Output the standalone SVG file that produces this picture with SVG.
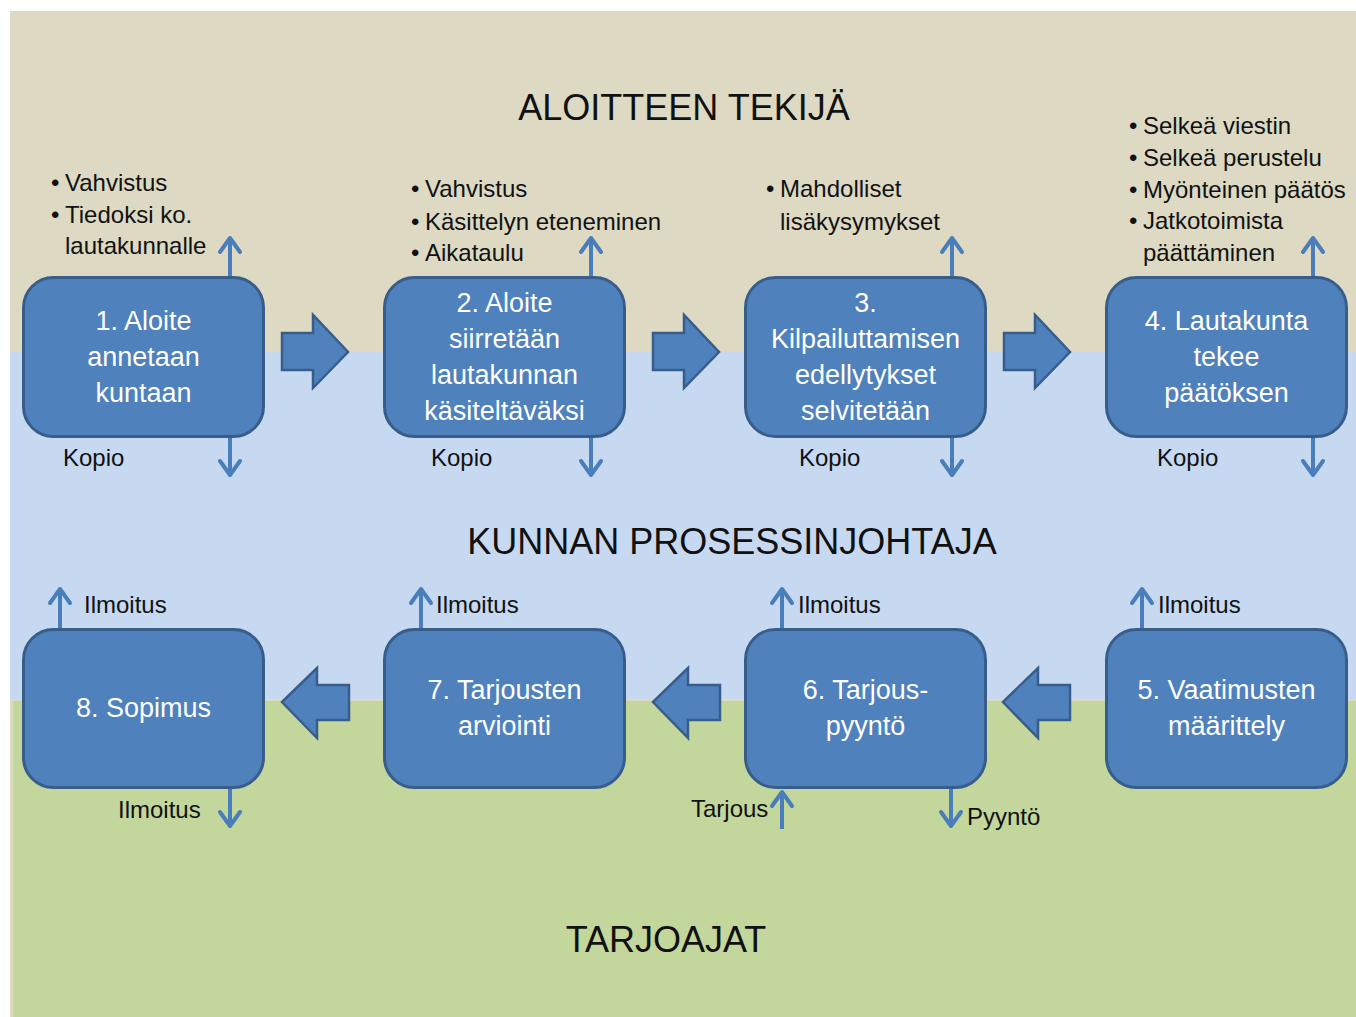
<svg xmlns="http://www.w3.org/2000/svg" width="1356" height="1017" viewBox="0 0 1356 1017">
<style>
.node{fill:#4f81bd;stroke:#385d8a;stroke-width:3}
.nt{font-family:"Liberation Sans",Arial,sans-serif;font-size:27px;fill:#ffffff;text-anchor:middle}
.hd{font-family:"Liberation Sans",Arial,sans-serif;font-size:36px;fill:#111111;text-anchor:middle}
.lb{font-family:"Liberation Sans",Arial,sans-serif;font-size:24px;fill:#111111}
.blk{fill:#4f81bd;stroke:#385d8a;stroke-width:2.5;stroke-linejoin:miter}
.thin{stroke:#4a7ebb;stroke-width:4;fill:none;marker-end:url(#ah)}
</style>
<defs>
<marker id="ah" viewBox="-20 -14 24 28" markerWidth="24" markerHeight="28" refX="0" refY="0" orient="auto" markerUnits="userSpaceOnUse">
<path d="M-14,-10 L0,0 L-14,10" fill="none" stroke="#4a7ebb" stroke-width="4" stroke-linecap="round" stroke-linejoin="round"/>
</marker>
</defs>
<g id="background">
<rect x="10" y="11" width="1346" height="1006" fill="#ddd9c3"/>
<rect x="10" y="351" width="1346" height="348" fill="#c6d9f1"/>
<rect x="13" y="701" width="1343" height="316" fill="#c3d69b"/>
</g>
<g id="lanes">
<text class="hd" x="684" y="120">ALOITTEEN TEKIJÄ</text>
<text class="hd" x="732" y="554">KUNNAN PROSESSINJOHTAJA</text>
<text class="hd" x="666" y="952">TARJOAJAT</text>
</g>
<g id="connectors">
<path class="blk" d="M282,333 H313 V315 L348,352 L313,388 V370 H282 Z"/>
<path class="blk" d="M653,333 H684 V315 L719,352 L684,388 V370 H653 Z"/>
<path class="blk" d="M1004,333 H1035 V315 L1070,352 L1035,388 V370 H1004 Z"/>
<path class="blk" d="M282,702 L317,668 V685 H349 V720 H317 V738 Z"/>
<path class="blk" d="M653,702 L688,668 V685 H720 V720 H688 V738 Z"/>
<path class="blk" d="M1003,702 L1038,668 V685 H1070 V720 H1038 V738 Z"/>
<line class="thin" x1="230" y1="276" x2="230" y2="238"/>
<line class="thin" x1="591" y1="276" x2="591" y2="238"/>
<line class="thin" x1="952" y1="276" x2="952" y2="238"/>
<line class="thin" x1="1313" y1="276" x2="1313" y2="238"/>
<line class="thin" x1="230" y1="438" x2="230" y2="475"/>
<line class="thin" x1="591" y1="438" x2="591" y2="475"/>
<line class="thin" x1="952" y1="438" x2="952" y2="475"/>
<line class="thin" x1="1313" y1="438" x2="1313" y2="475"/>
<line class="thin" x1="60" y1="628" x2="60" y2="589"/>
<line class="thin" x1="421" y1="628" x2="421" y2="589"/>
<line class="thin" x1="782" y1="628" x2="782" y2="589"/>
<line class="thin" x1="1142" y1="628" x2="1142" y2="589"/>
<line class="thin" x1="230" y1="789" x2="230" y2="826"/>
<line class="thin" x1="951" y1="789" x2="951" y2="826"/>
<line class="thin" x1="782" y1="829" x2="782" y2="792"/>
</g>
<g id="labels">
<text class="lb" x="51" y="191">•</text><text class="lb" x="65" y="191">Vahvistus</text>
<text class="lb" x="51" y="223">•</text><text class="lb" x="65" y="223">Tiedoksi ko.</text>
<text class="lb" x="65" y="254">lautakunnalle</text>
<text class="lb" x="411" y="197">•</text><text class="lb" x="425" y="197">Vahvistus</text>
<text class="lb" x="411" y="230">•</text><text class="lb" x="425" y="230">Käsittelyn eteneminen</text>
<text class="lb" x="411" y="261">•</text><text class="lb" x="425" y="261">Aikataulu</text>
<text class="lb" x="766" y="197">•</text><text class="lb" x="780" y="197">Mahdolliset</text>
<text class="lb" x="780" y="230">lisäkysymykset</text>
<text class="lb" x="1129" y="134">•</text><text class="lb" x="1143" y="134">Selkeä viestin</text>
<text class="lb" x="1129" y="166">•</text><text class="lb" x="1143" y="166">Selkeä perustelu</text>
<text class="lb" x="1129" y="198">•</text><text class="lb" x="1143" y="198">Myönteinen päätös</text>
<text class="lb" x="1129" y="229">•</text><text class="lb" x="1143" y="229">Jatkotoimista</text>
<text class="lb" x="1143" y="261">päättäminen</text>
<text class="lb" x="63" y="466">Kopio</text>
<text class="lb" x="431" y="466">Kopio</text>
<text class="lb" x="799" y="466">Kopio</text>
<text class="lb" x="1157" y="466">Kopio</text>
<text class="lb" x="84" y="613">Ilmoitus</text>
<text class="lb" x="436" y="613">Ilmoitus</text>
<text class="lb" x="798" y="613">Ilmoitus</text>
<text class="lb" x="1158" y="613">Ilmoitus</text>
<text class="lb" x="118" y="818">Ilmoitus</text>
<text class="lb" x="691" y="817">Tarjous</text>
<text class="lb" x="967" y="825">Pyyntö</text>
</g>
<g id="node1">
<rect class="node" x="23.5" y="277.5" width="240" height="159" rx="30"/>
<text class="nt" x="143.5" y="330">1. Aloite</text>
<text class="nt" x="143.5" y="366">annetaan</text>
<text class="nt" x="143.5" y="402">kuntaan</text>
</g>
<g id="node2">
<rect class="node" x="384.5" y="277.5" width="240" height="159" rx="30"/>
<text class="nt" x="504.5" y="312">2. Aloite</text>
<text class="nt" x="504.5" y="348">siirretään</text>
<text class="nt" x="504.5" y="384">lautakunnan</text>
<text class="nt" x="504.5" y="420">käsiteltäväksi</text>
</g>
<g id="node3">
<rect class="node" x="745.5" y="277.5" width="240" height="159" rx="30"/>
<text class="nt" x="865.5" y="312">3.</text>
<text class="nt" x="865.5" y="348">Kilpailuttamisen</text>
<text class="nt" x="865.5" y="384">edellytykset</text>
<text class="nt" x="865.5" y="420">selvitetään</text>
</g>
<g id="node4">
<rect class="node" x="1106.5" y="277.5" width="240" height="159" rx="30"/>
<text class="nt" x="1226.5" y="330">4. Lautakunta</text>
<text class="nt" x="1226.5" y="366">tekee</text>
<text class="nt" x="1226.5" y="402">päätöksen</text>
</g>
<g id="node5">
<rect class="node" x="1106.5" y="629.5" width="240" height="158" rx="30"/>
<text class="nt" x="1226.5" y="699">5. Vaatimusten</text>
<text class="nt" x="1226.5" y="735">määrittely</text>
</g>
<g id="node6">
<rect class="node" x="745.5" y="629.5" width="240" height="158" rx="30"/>
<text class="nt" x="865.5" y="699">6. Tarjous-</text>
<text class="nt" x="865.5" y="735">pyyntö</text>
</g>
<g id="node7">
<rect class="node" x="384.5" y="629.5" width="240" height="158" rx="30"/>
<text class="nt" x="504.5" y="699">7. Tarjousten</text>
<text class="nt" x="504.5" y="735">arviointi</text>
</g>
<g id="node8">
<rect class="node" x="23.5" y="629.5" width="240" height="158" rx="30"/>
<text class="nt" x="143.5" y="717">8. Sopimus</text>
</g>
</svg>
